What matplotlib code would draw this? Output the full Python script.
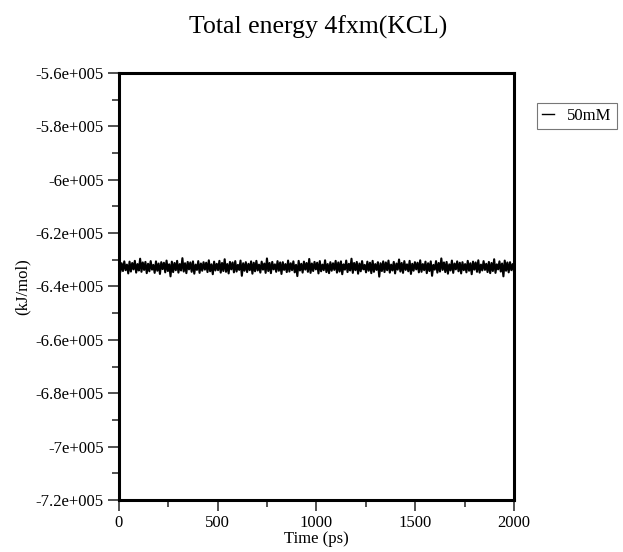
import numpy as np
import matplotlib
matplotlib.use("Agg")
import matplotlib.pyplot as plt
from matplotlib.ticker import FixedLocator, MultipleLocator

# Total energy trace (units of 1e3 kJ/mol)
energy_k = [
    -630.9, -634.6, -631.3, -634.2, -630.6, -633.9, -631.8, -635.1, -630.7, -634.4,
    -631.2, -633.6, -630.4, -634.8, -631.6, -634.0, -629.6, -634.5, -631.0, -633.8,
    -630.8, -635.0, -631.5, -634.3, -630.5, -633.7, -631.9, -634.9, -630.6, -634.1,
    -631.4, -635.3, -630.9, -633.5, -631.1, -634.7, -630.3, -634.2, -631.7, -636.2,
    -630.7, -634.6, -631.2, -633.9, -630.4, -634.8, -631.6, -634.0, -629.4, -634.4,
    -631.3, -635.0, -630.8, -633.6, -631.0, -634.5, -630.6, -635.2, -631.8, -633.8,
    -630.5, -634.9, -631.4, -634.1, -630.9, -633.7, -631.1, -634.6, -630.2, -634.3,
    -631.7, -635.4, -630.7, -634.0, -631.5, -633.9, -630.4, -634.8, -631.2, -634.2,
    -629.8, -634.5, -631.6, -635.1, -630.8, -633.6, -631.0, -634.7, -630.5, -634.4,
    -631.9, -633.8, -630.3, -636.0, -631.3, -634.1, -630.9, -634.6, -631.5, -633.9,
    -630.6, -635.2, -631.1, -634.3, -630.4, -634.0, -631.8, -634.8, -630.7, -633.7,
    -631.4, -634.9, -629.5, -634.2, -631.2, -635.0, -630.8, -633.6, -631.7, -634.5,
    -630.5, -634.1, -631.0, -635.3, -630.9, -633.8, -631.6, -634.6, -630.3, -634.4,
    -631.3, -633.9, -630.6, -634.7, -631.9, -636.1, -630.4, -634.0, -631.5, -634.8,
    -630.7, -633.7, -631.2, -634.5, -629.7, -634.9, -631.4, -634.2, -630.8, -633.6,
    -631.1, -635.1, -630.5, -634.3, -631.8, -633.9, -630.2, -634.6, -631.6, -635.0,
    -630.9, -634.1, -631.3, -633.8, -630.4, -634.8, -631.0, -634.4, -630.6, -635.4,
    -631.7, -633.7, -630.3, -634.6, -631.5, -634.0, -629.6, -634.9, -631.2, -633.9,
    -630.8, -635.2, -631.4, -634.3, -630.5, -633.6, -631.9, -634.7, -630.7, -634.1,
    -631.1, -635.0, -630.4, -634.5, -631.6, -633.8, -630.9, -636.3, -631.3, -634.2,
    -630.6, -634.6, -631.0, -633.9, -630.3, -634.8, -631.8, -634.0, -630.8, -635.1,
    -631.4, -633.7, -629.9, -634.4, -631.2, -634.9, -630.5, -633.8, -631.7, -634.3,
    -630.4, -635.3, -631.5, -634.1, -630.9, -633.6, -631.1, -634.7, -630.2, -634.5,
    -631.6, -633.9, -630.7, -635.0, -631.3, -634.2, -630.6, -636.0, -631.9, -633.7,
    -630.5, -634.8, -631.2, -634.4, -629.5, -633.8, -631.0, -634.6, -630.8, -635.2,
    -631.7, -634.0, -630.3, -634.9, -631.4, -633.6, -630.6, -634.3, -631.1, -635.1,
    -630.9, -633.9, -631.6, -634.7, -630.4, -634.1, -631.3, -635.4, -630.7, -633.7,
    -631.0, -634.5, -630.2, -634.8, -631.8, -634.0, -630.5, -633.8, -631.5, -634.6,
    -630.8, -635.0, -631.2, -634.2, -629.8, -634.9, -631.7, -633.6, -630.6, -634.4,
    -631.4, -636.2, -630.3, -634.1, -631.0, -634.7, -630.9, -633.9, -631.6, -634.5,
]
energy = np.array(energy_k) * 1e3
time_ps = np.linspace(0, 2000, len(energy))

series_label = "50mM"
y_ticks = [-560000, -580000, -600000, -620000, -640000, -660000, -680000, -700000, -720000]
y_tick_labels = ["-5.6e+005", "-5.8e+005", "-6e+005", "-6.2e+005", "-6.4e+005",
                 "-6.6e+005", "-6.8e+005", "-7e+005", "-7.2e+005"]
x_ticks = [0, 500, 1000, 1500, 2000]

plt.rcParams['font.family'] = ['Liberation Serif', 'DejaVu Serif']

fig = plt.figure(figsize=(6.23, 5.52), dpi=100)
ax = fig.add_axes([0.191, 0.094, 0.634, 0.774])

ax.plot(time_ps, energy, color='black', lw=1.5, label=series_label)

ax.set_xlim(0, 2000)
ax.set_ylim(-720000, -560000)
ax.xaxis.set_major_locator(FixedLocator(x_ticks))
ax.xaxis.set_minor_locator(MultipleLocator(250))
ax.yaxis.set_major_locator(FixedLocator(y_ticks))
ax.yaxis.set_minor_locator(MultipleLocator(10000))
ax.set_yticklabels(y_tick_labels)
ax.set_xticklabels([str(t) for t in x_ticks])

for s in ax.spines.values():
    s.set_linewidth(2.2)
ax.tick_params(which='major', direction='out', length=8, width=1.2,
               labelsize=12, color='#333333', pad=3)
ax.tick_params(which='minor', direction='out', length=5, width=1.2, color='#333333')
ax.tick_params(top=False, right=False, which='both')

ax.set_xlabel("Time (ps)", fontsize=12, labelpad=0)
fig.text(0.037, 0.481, "(kJ/mol)", rotation=90, fontsize=12, ha='center', va='center')
fig.text(0.51, 0.951, "Total energy 4fxm(KCL)", fontsize=18.5, ha='center', va='center')

leg = ax.legend(loc='upper left', bbox_to_anchor=(0.862, 0.813),
                bbox_transform=fig.transFigure, borderaxespad=0, fontsize=12,
                handlelength=0.72, handletextpad=0.8, borderpad=0.3,
                fancybox=False, frameon=True)
leg.get_frame().set_edgecolor('#555555')
leg.get_frame().set_linewidth(0.8)
for line in leg.get_lines():
    line.set_linewidth(1.0)

fig.savefig("out.png", dpi=100)
